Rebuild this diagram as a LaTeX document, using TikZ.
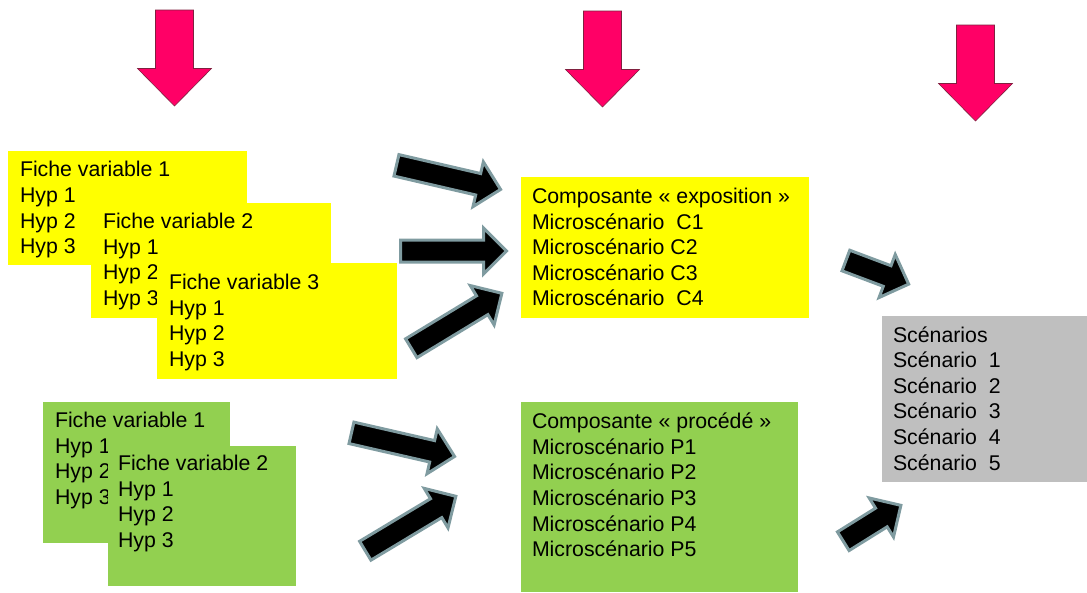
\documentclass[tikz,border=0pt]{standalone}
\usepackage{fontspec}
\setmainfont{Liberation Sans}
\usetikzlibrary{calc}
\definecolor{boxyellow}{HTML}{FFFF00}
\definecolor{boxgreen}{HTML}{92D050}
\definecolor{boxgray}{HTML}{BFBFBF}
\definecolor{arrowedge}{HTML}{7F9BA0}
\definecolor{arrowpink}{HTML}{FF0066}
\definecolor{pinkedge}{HTML}{80203F}
\tikzset{
  box/.style={rectangle,draw=none,inner sep=0pt,outer sep=0pt,anchor=north west},
  ybox/.style={box,fill=boxyellow},
  gbox/.style={box,fill=boxgreen},
  sbox/.style={box,fill=boxgray},
  txt/.style={inner sep=0pt,outer sep=0pt,anchor=north west,align=left,text=black,font=\fontsize{21.3}{25.6}\selectfont},
  blockarrow/.style={fill=black,draw=arrowedge,line width=3pt,line join=miter,miter limit=10},
  pinkarrow/.style={fill=arrowpink,draw=pinkedge,line width=0.6pt,line join=miter}
}
% block arrow between two named coordinates (outer tail centre, outer tip)
\newcommand{\blockarr}[2]{%
  \coordinate (ta) at ($(#1)!1.5pt!(#2)$);
  \coordinate (ti) at ($(#2)!2.5pt!(#1)$);
  \coordinate (ba) at ($(ti)!23pt!(ta)$);
  \draw[blockarrow]
    ($(ta)!11pt!90:(ti)$) -- ($(ba)!11pt!-90:(ta)$) -- ($(ba)!23pt!-90:(ta)$) -- (ti)
    -- ($(ba)!23pt!90:(ta)$) -- ($(ba)!11pt!90:(ta)$) -- ($(ta)!11pt!-90:(ti)$) -- cycle;
}
\newcommand{\pinkdown}[2]{%
  \draw[pinkarrow,shift={(#1,#2)}] (-19,0) -- (19,0) -- (19,58.5) -- (37,58.5) -- (0,96) -- (-37,58.5) -- (-19,58.5) -- cycle;
}
\begin{document}
\begin{tikzpicture}[x=1pt,y=-1pt]
\useasboundingbox (0,0) rectangle (1087,592);
% pink arrows
\pinkdown{174.5}{10}
\pinkdown{602.5}{11}
\pinkdown{975.5}{25}
% yellow variable cards
\node[ybox,minimum width=239pt,minimum height=114pt] (y1) at (8,151) {};
\node[txt] (y1t) at (20,161.5) {Fiche variable 1\\Hyp 1\\Hyp 2\\Hyp 3};
\node[ybox,minimum width=240pt,minimum height=115pt] (y2) at (91,203) {};
\node[txt] (y2t) at (103,213) {Fiche variable 2\\Hyp 1\\Hyp 2\\Hyp 3};
\node[ybox,minimum width=239.5pt,minimum height=116pt] (y3) at (157,263) {};
\node[txt] (y3t) at (169,274) {Fiche variable 3\\Hyp 1\\Hyp 2\\Hyp 3};
% green variable cards
\node[gbox,minimum width=187pt,minimum height=141pt] (g1) at (43,402) {};
\node[txt] (g1t) at (55,412) {Fiche variable 1\\Hyp 1\\Hyp 2\\Hyp 3};
\node[gbox,minimum width=187.5pt,minimum height=140pt] (g2) at (108,445.5) {};
\node[txt] (g2t) at (118,455) {Fiche variable 2\\Hyp 1\\Hyp 2\\Hyp 3};
% components
\node[ybox,minimum width=288pt,minimum height=141pt] (cy) at (521,177) {};
\node[txt] (cyt) at (532,188) {Composante « exposition »\\Microscénario\ \ C1\\Microscénario C2\\Microscénario C3\\Microscénario\ \ C4};
\node[gbox,minimum width=277pt,minimum height=190pt] (cg) at (521,402) {};
\node[txt] (cgt) at (532,413) {Composante « procédé »\\Microscénario P1\\Microscénario P2\\Microscénario P3\\Microscénario P4\\Microscénario P5};
% scenarios
\node[sbox,minimum width=205pt,minimum height=166pt] (sc) at (882,316) {};
\node[txt] (sct) at (893,326.5) {Scénarios\\Scénario\ \ 1\\Scénario\ \ 2\\Scénario\ \ 3\\Scénario\ \ 4\\Scénario\ \ 5};
% block arrows
\coordinate (a1s) at (395,165);  \coordinate (a1e) at (503,190);
\coordinate (a2s) at (399,251);  \coordinate (a2e) at (509,251);
\coordinate (a3s) at (410,349);  \coordinate (a3e) at (504,292);
\coordinate (a4s) at (844.5,260);\coordinate (a4e) at (911,285);
\coordinate (a5s) at (350,432.5);\coordinate (a5e) at (457,457);
\coordinate (a6s) at (364,551.5);\coordinate (a6e) at (458,495);
\coordinate (a7s) at (842,542);  \coordinate (a7e) at (903,504);
\blockarr{a1s}{a1e}
\blockarr{a2s}{a2e}
\blockarr{a3s}{a3e}
\blockarr{a4s}{a4e}
\blockarr{a5s}{a5e}
\blockarr{a6s}{a6e}
\blockarr{a7s}{a7e}
\end{tikzpicture}
\end{document}
